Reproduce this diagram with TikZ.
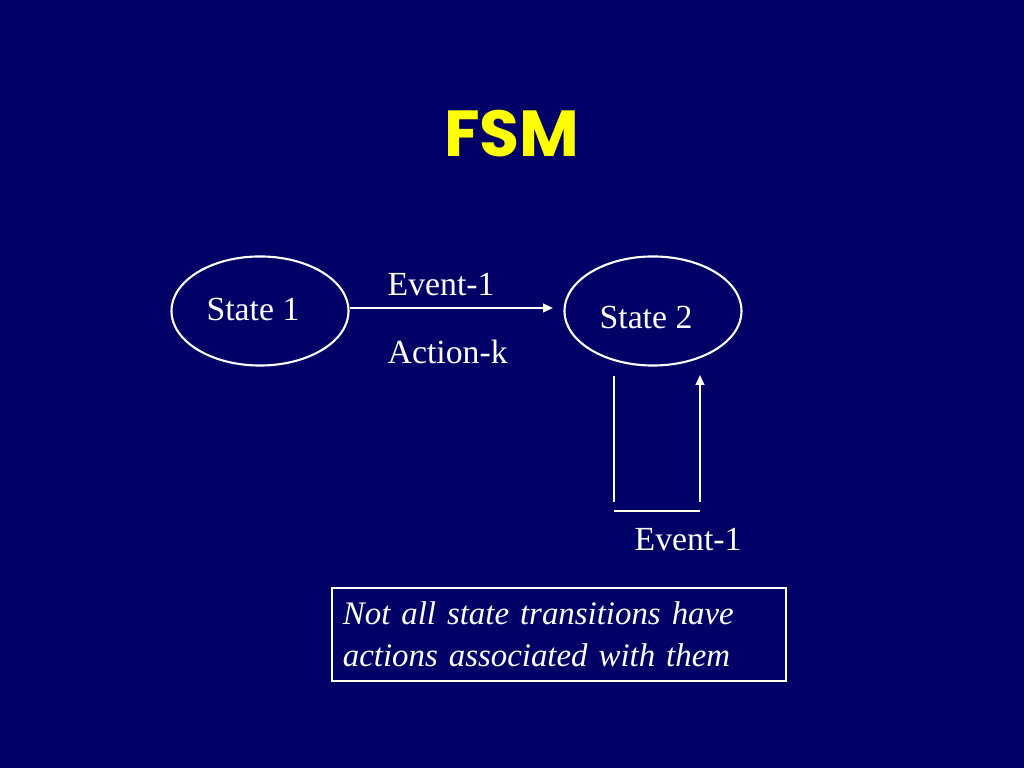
\documentclass[tikz,border=0pt]{standalone}
\usepackage{fontspec}
\setmainfont{Liberation Serif}
\newfontfamily\titlefont{Poppins}
\definecolor{slidebg}{RGB}{0,0,102}
\definecolor{titleyellow}{RGB}{255,255,0}
\usetikzlibrary{arrows.meta,positioning,shapes.geometric}

\begin{document}
\begin{tikzpicture}[x=0.01cm,y=-0.01cm,
  statenode/.style={draw=white,ellipse,line width=0.6pt,minimum width=1.77cm,minimum height=1.09cm,inner sep=0pt},
  lbl/.style={text=white,font=\fontsize{9.6}{12}\selectfont,inner sep=0pt},
  edge/.style={draw=white,line width=0.6pt},
  tip/.style={-{Triangle[length=2.8pt,width=2.4pt]}}]
  \useasboundingbox[fill=slidebg] (0,0) rectangle (1024,768);
  \node[text=titleyellow,font=\titlefont\bfseries\fontsize{18.5}{20}\selectfont] (title) at (512,134) {FSM};
  % states
  \node[statenode] (s1) at (260,311) {};
  \node[statenode] (s2) at (653,311) {};
  \node[lbl] (s1txt) at (253,310) {State 1};
  \node[lbl] (s2txt) at (646,318) {State 2};
  % transition 1 -> 2
  \coordinate (a1) at (350,308);
  \coordinate (a2) at (553,308);
  \draw[edge,tip] (a1) -- (a2);
  \node[lbl,anchor=west] (ev1) at (387,285) {Event-1};
  \node[lbl,anchor=west] (act) at (387,352) {Action-k};
  % loop on state 2
  \coordinate (l1) at (614,376);
  \coordinate (l2) at (614,502);
  \coordinate (l3) at (614,511);
  \coordinate (l4) at (700,511);
  \coordinate (l5) at (700,502);
  \coordinate (l6) at (700,375);
  \draw[edge] (l1) -- (l2);
  \draw[edge] (l3) -- (l4);
  \draw[edge,tip] (l5) -- (l6);
  \node[lbl,anchor=west] (ev2) at (634,540) {Event-1};
  % note
  \node[draw=white,line width=0.6pt,text=white,font=\itshape\fontsize{9.35}{12}\selectfont,
    align=left,text width=4.32cm,inner xsep=0.11cm,minimum height=0.93cm] (note) at (559,634.5)
    {Not all state transitions have\\actions associated with them};
\end{tikzpicture}
\end{document}
